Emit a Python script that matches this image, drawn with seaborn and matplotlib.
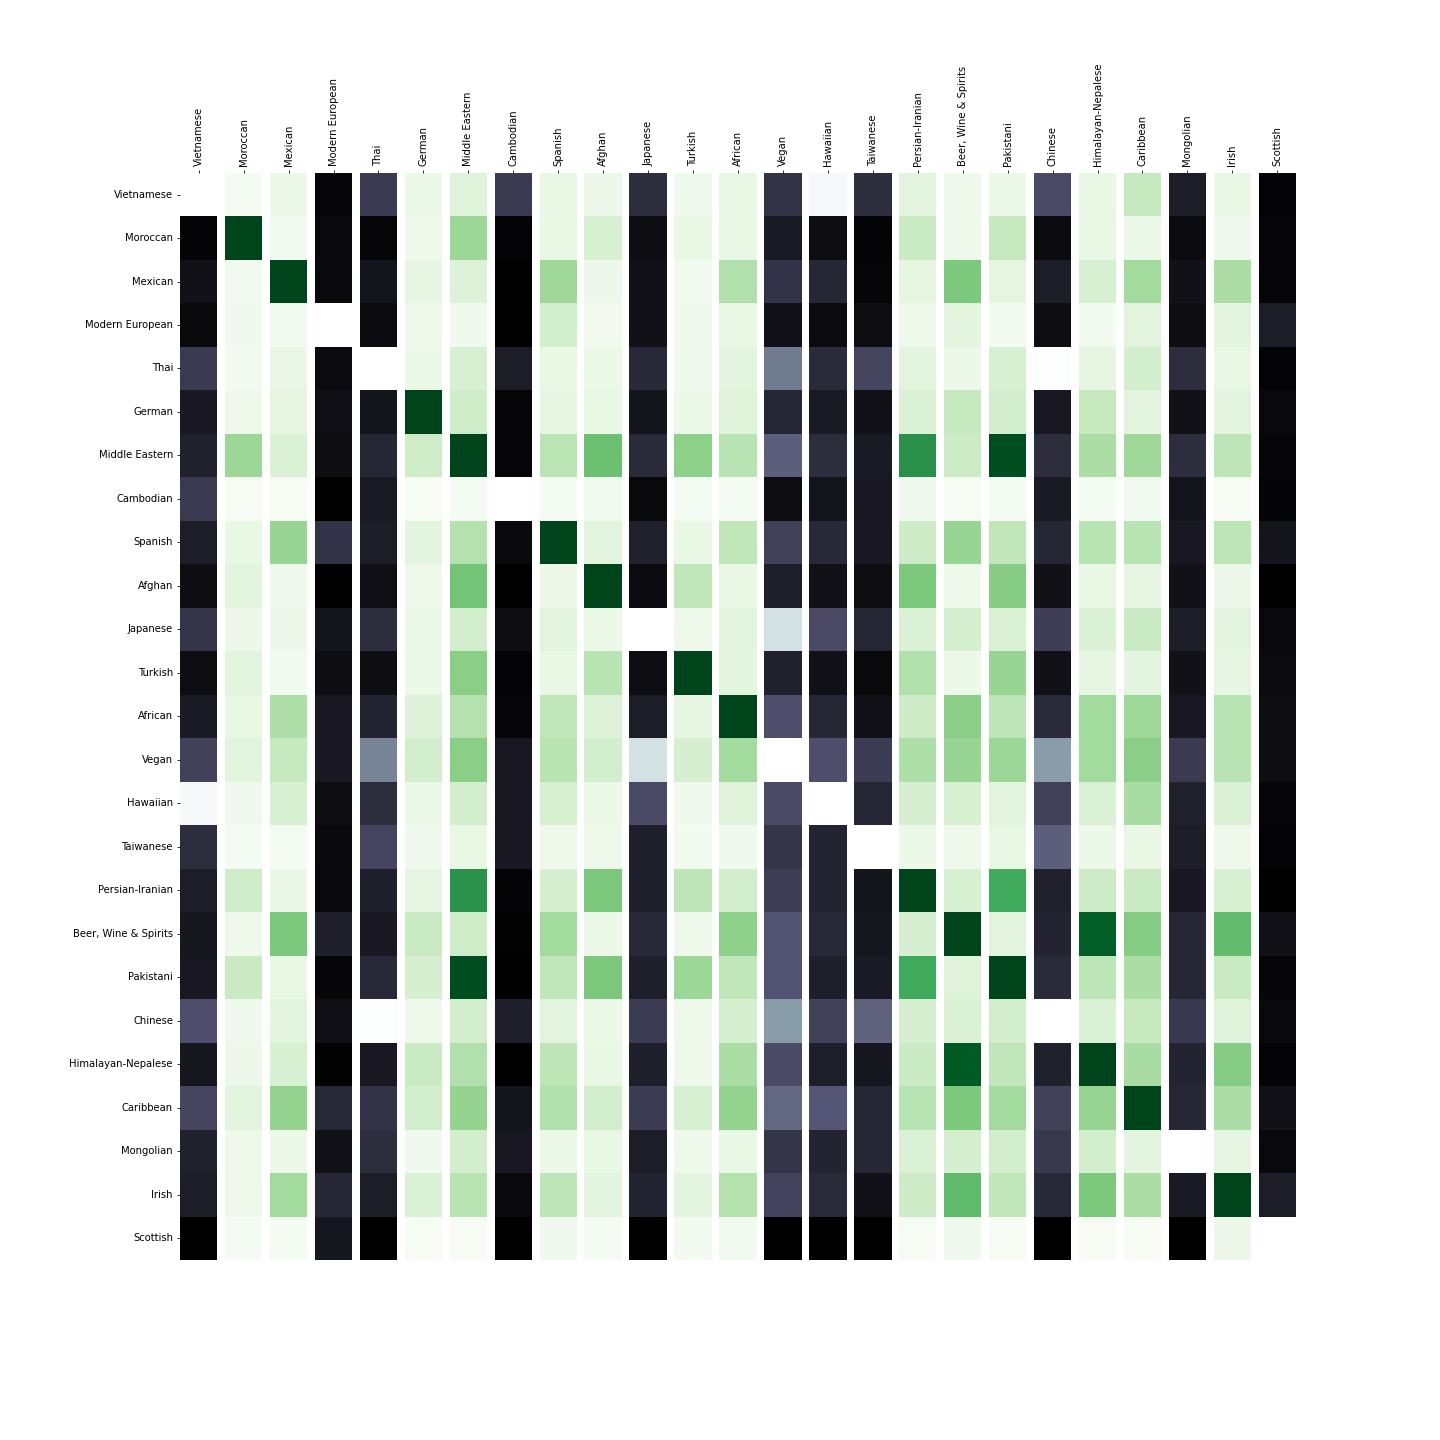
import pandas as pd
import seaborn as sns
import matplotlib
matplotlib.use('Agg')
import matplotlib.pyplot as plt
import numpy as np

cuisines = ['Vietnamese', 'Moroccan', 'Mexican', 'Modern European', 'Thai', 'German',
            'Middle Eastern', 'Cambodian', 'Spanish', 'Afghan', 'Japanese', 'Turkish',
            'African', 'Vegan', 'Hawaiian', 'Taiwanese', 'Persian-Iranian',
            'Beer, Wine & Spirits', 'Pakistani', 'Chinese', 'Himalayan-Nepalese',
            'Caribbean', 'Mongolian', 'Irish', 'Scottish']

# columns drawn with the green map, all others use bone
green_cols = ['Moroccan', 'Mexican', 'German', 'Middle Eastern', 'Spanish', 'Afghan',
              'Turkish', 'African', 'Persian-Iranian', 'Beer, Wine & Spirits',
              'Pakistani', 'Himalayan-Nepalese', 'Caribbean', 'Irish']

# similarity per column (rows in the order of cuisines)
col_vietnamese = [1.0, 0.02, 0.08, 0.04, 0.26, 0.11, 0.15, 0.26, 0.13, 0.06, 0.24, 0.06, 0.12,
                  0.29, 0.97, 0.2, 0.13, 0.1, 0.11, 0.35, 0.1, 0.31, 0.15, 0.13, 0.0]
col_moroccan = [0.02, 1.0, 0.04, 0.05, 0.03, 0.06, 0.39, 0.01, 0.1, 0.14, 0.07, 0.14, 0.1,
                0.14, 0.05, 0.02, 0.22, 0.06, 0.24, 0.05, 0.07, 0.14, 0.06, 0.06, 0.02]
col_mexican = [0.08, 0.04, 1.0, 0.04, 0.09, 0.125, 0.17, 0.01, 0.4, 0.05, 0.07, 0.04, 0.33,
               0.25, 0.18, 0.02, 0.09, 0.48, 0.1, 0.13, 0.18, 0.41, 0.08, 0.37, 0.02]
col_modern_european = [0.03, 0.04, 0.04, 1.0, 0.05, 0.07, 0.06, 0.0, 0.23, 0.0, 0.09, 0.06, 0.11,
                       0.11, 0.06, 0.04, 0.04, 0.14, 0.03, 0.07, 0.01, 0.18, 0.08, 0.17, 0.1]
col_thai = [0.26, 0.03, 0.09, 0.05, 1.0, 0.09, 0.17, 0.12, 0.13, 0.07, 0.2, 0.06, 0.16,
            0.53, 0.2, 0.31, 0.14, 0.11, 0.18, 0.99, 0.11, 0.23, 0.2, 0.13, 0.0]
col_german = [0.08, 0.06, 0.11, 0.06, 0.08, 1.0, 0.22, 0.01, 0.13, 0.06, 0.08, 0.08, 0.16,
              0.2, 0.08, 0.05, 0.12, 0.24, 0.19, 0.06, 0.24, 0.2, 0.05, 0.17, 0.01]
col_middle_eastern = [0.15, 0.39, 0.16, 0.05, 0.18, 0.22, 1.0, 0.02, 0.31, 0.5, 0.21, 0.44, 0.31,
                      0.44, 0.2, 0.1, 0.72, 0.22, 0.97, 0.2, 0.32, 0.41, 0.2, 0.3, 0.01]
col_cambodian = [0.26, 0.02, 0.0, 0.0, 0.13, 0.03, 0.03, 1.0, 0.04, 0.0, 0.06, 0.02, 0.03,
                 0.11, 0.11, 0.11, 0.02, 0.01, 0.0, 0.14, 0.0, 0.09, 0.11, 0.04, 0.0]
col_spanish = [0.1, 0.1, 0.38, 0.2, 0.1, 0.11, 0.29, 0.02, 1.0, 0.07, 0.14, 0.1, 0.27,
               0.3, 0.18, 0.06, 0.19, 0.37, 0.27, 0.14, 0.28, 0.32, 0.08, 0.28, 0.05]
col_afghan = [0.07, 0.18, 0.07, 0.03, 0.08, 0.1, 0.52, 0.04, 0.14, 1.0, 0.08, 0.3, 0.16,
              0.2, 0.08, 0.06, 0.48, 0.08, 0.48, 0.08, 0.1, 0.2, 0.1, 0.14, 0.02]
col_japanese = [0.2, 0.06, 0.08, 0.08, 0.18, 0.09, 0.19, 0.04, 0.15, 0.05, 1.0, 0.06, 0.13,
                0.87, 0.33, 0.14, 0.14, 0.18, 0.14, 0.27, 0.14, 0.27, 0.13, 0.16, 0.0]
col_turkish = [0.05, 0.1, 0.04, 0.05, 0.05, 0.08, 0.43, 0.02, 0.1, 0.27, 0.06, 1.0, 0.11,
               0.19, 0.05, 0.03, 0.28, 0.06, 0.39, 0.06, 0.06, 0.18, 0.06, 0.13, 0.03]
col_african = [0.1, 0.1, 0.32, 0.1, 0.14, 0.15, 0.3, 0.02, 0.27, 0.1, 0.14, 0.13, 1.0,
               0.37, 0.15, 0.05, 0.2, 0.43, 0.27, 0.19, 0.34, 0.41, 0.1, 0.31, 0.04]
col_vegan = [0.23, 0.12, 0.23, 0.08, 0.5, 0.17, 0.41, 0.06, 0.29, 0.14, 0.87, 0.15, 0.35,
             1.0, 0.33, 0.24, 0.28, 0.37, 0.37, 0.61, 0.33, 0.44, 0.24, 0.3, 0.0]
col_hawaiian = [0.97, 0.06, 0.17, 0.05, 0.19, 0.12, 0.2, 0.09, 0.18, 0.08, 0.33, 0.08, 0.17,
                0.35, 1.0, 0.16, 0.16, 0.18, 0.14, 0.29, 0.14, 0.38, 0.16, 0.19, 0.0]
col_taiwanese = [0.2, 0.02, 0.03, 0.06, 0.31, 0.08, 0.12, 0.11, 0.11, 0.06, 0.17, 0.04, 0.08,
                 0.27, 0.17, 1.0, 0.09, 0.1, 0.12, 0.42, 0.1, 0.17, 0.17, 0.08, 0.0]
col_persian = [0.14, 0.24, 0.125, 0.06, 0.14, 0.17, 0.73, 0.05, 0.23, 0.48, 0.17, 0.32, 0.23,
               0.33, 0.19, 0.08, 1.0, 0.19, 0.63, 0.19, 0.24, 0.3, 0.17, 0.23, 0.01]
col_beer = [0.06, 0.06, 0.48, 0.13, 0.08, 0.25, 0.23, 0.01, 0.4, 0.06, 0.19, 0.08, 0.44,
            0.4, 0.18, 0.06, 0.18, 1.0, 0.15, 0.17, 0.93, 0.48, 0.19, 0.55, 0.05]
col_pakistani = [0.08, 0.25, 0.125, 0.03, 0.18, 0.2, 0.97, 0.02, 0.27, 0.45, 0.17, 0.4, 0.28,
                 0.39, 0.14, 0.1, 0.625, 0.14, 1.0, 0.2, 0.27, 0.37, 0.2, 0.27, 0.01]
col_chinese = [0.33, 0.05, 0.13, 0.06, 0.99, 0.11, 0.2, 0.12, 0.17, 0.08, 0.28, 0.08, 0.19,
               0.61, 0.29, 0.41, 0.15, 0.16, 0.19, 1.0, 0.15, 0.29, 0.25, 0.18, 0.0]
col_himalayan = [0.1, 0.1, 0.18, 0.03, 0.11, 0.25, 0.34, 0.02, 0.3, 0.1, 0.17, 0.11, 0.37,
                 0.37, 0.17, 0.08, 0.23, 0.92, 0.28, 0.17, 1.0, 0.4, 0.2, 0.48, 0.01]
col_caribbean = [0.25, 0.08, 0.37, 0.14, 0.2, 0.14, 0.38, 0.04, 0.3, 0.11, 0.24, 0.13, 0.38,
                 0.44, 0.35, 0.1, 0.24, 0.45, 0.34, 0.25, 0.35, 1.0, 0.13, 0.34, 0.01]
col_mongolian = [0.13, 0.05, 0.08, 0.06, 0.2, 0.08, 0.2, 0.09, 0.11, 0.08, 0.13, 0.08, 0.11,
                 0.26, 0.15, 0.13, 0.11, 0.17, 0.17, 0.25, 0.16, 0.17, 1.0, 0.12, 0.0]
col_irish = [0.1, 0.05, 0.34, 0.13, 0.1, 0.13, 0.28, 0.01, 0.28, 0.07, 0.13, 0.11, 0.3,
             0.3, 0.17, 0.06, 0.18, 0.54, 0.24, 0.15, 0.45, 0.34, 0.11, 1.0, 0.07]
col_scottish = [0.02, 0.03, 0.03, 0.13, 0.02, 0.04, 0.03, 0.02, 0.09, 0.0, 0.04, 0.05, 0.06,
                0.06, 0.03, 0.02, 0.0, 0.08, 0.03, 0.04, 0.02, 0.08, 0.04, 0.13, 1.0]

all_cols = [col_vietnamese, col_moroccan, col_mexican, col_modern_european, col_thai,
            col_german, col_middle_eastern, col_cambodian, col_spanish, col_afghan,
            col_japanese, col_turkish, col_african, col_vegan, col_hawaiian, col_taiwanese,
            col_persian, col_beer, col_pakistani, col_chinese, col_himalayan, col_caribbean,
            col_mongolian, col_irish, col_scottish]


def plotSimilarity(sim, outpath='out.png'):
    """
    one axes per column so every cuisine can get its own colormap
    """
    fig, axes = plt.subplots(1, len(cuisines), figsize=(20, 20))
    plt.subplots_adjust(left=0.125, right=0.9, top=0.88, bottom=0.125, wspace=0.2)
    for idx, (ax, cname) in enumerate(zip(axes, cuisines)):
        cmap = 'Greens' if cname in green_cols else 'bone'
        sns.heatmap(sim[[cname]], ax=ax, cmap=cmap, vmin=0, vmax=1, cbar=False,
                    yticklabels=(idx == 0))
        ax.xaxis.tick_top()
        ax.set_xticklabels([cname], rotation=90)
        ax.set(xlabel=None, ylabel=None)
        if idx == 0:
            ax.set_yticklabels(cuisines, rotation=0)
    plt.savefig(outpath, dpi=72)


if __name__ == '__main__':
    for c in all_cols:
        assert len(c) == len(cuisines)
    sim = pd.DataFrame(np.array(all_cols).T, index=cuisines, columns=cuisines)
    plotSimilarity(sim)
